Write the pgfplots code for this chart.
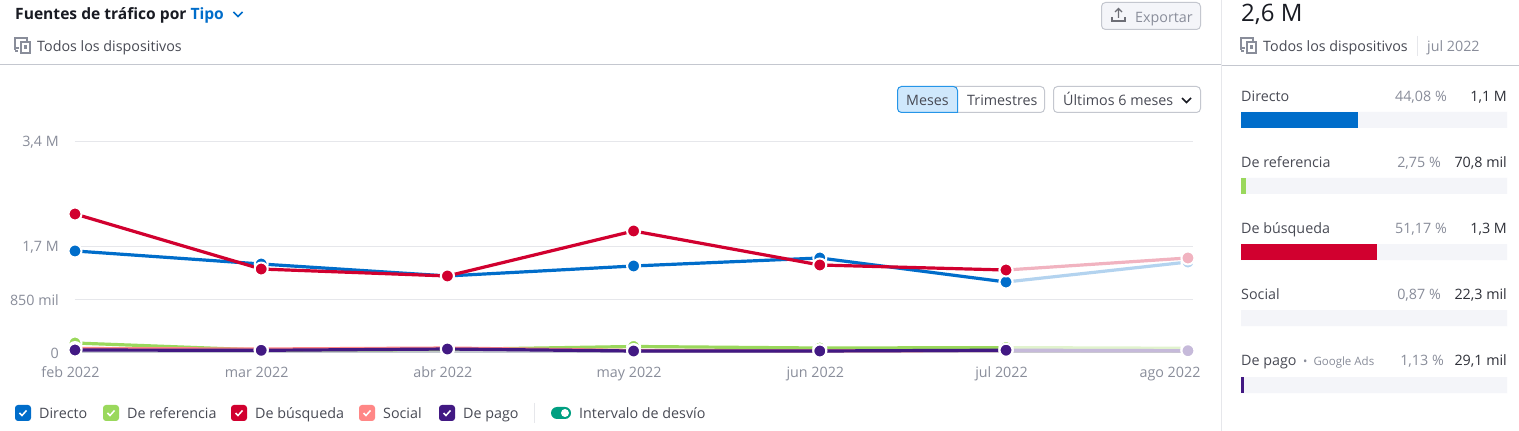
\documentclass[border=0pt]{standalone}
\usepackage{fontspec}
\setmainfont{Open Sans}
\usepackage{pgfplots}
\pgfplotsset{compat=1.18}
\definecolor{cBlue}{HTML}{006DCA}
\definecolor{cGreen}{HTML}{9AD85C}
\definecolor{cRed}{HTML}{D1002F}
\definecolor{cPink}{HTML}{FF8786}
\definecolor{cPurple}{HTML}{421983}
\definecolor{fBlue}{HTML}{B3D3EF}
\definecolor{fGreen}{HTML}{E1F3CE}
\definecolor{fRed}{HTML}{F1B3C0}
\definecolor{fPink}{HTML}{FFDBDB}
\definecolor{fPurple}{HTML}{C6BADA}
\definecolor{tDark}{HTML}{191B23}
\definecolor{tMid}{HTML}{484A54}
\definecolor{tVal}{HTML}{2E3038}
\definecolor{tGrey}{HTML}{898D9A}
\definecolor{lineC}{HTML}{C4C7CF}
\definecolor{gridC}{HTML}{E6E7EB}
\definecolor{track}{HTML}{F4F5F9}
\definecolor{btnFill}{HTML}{CFE8FC}
\definecolor{btnLine}{HTML}{2595E8}
\definecolor{toggleC}{HTML}{009F81}
\newcommand{\fs}[1]{\fontsize{#1}{#1}\selectfont}
% x, baseline y, colour, text
\newcommand{\tl}[4]{\node[anchor=base west,inner sep=0pt,text=#3] at (#1,#2) {\strut\fs{14.3}#4};}
\newcommand{\tr}[4]{\node[anchor=base east,inner sep=0pt,text=#3] at (#1,#2) {\strut\fs{14.3}#4};}
\newcommand{\devicon}[2]{%
 \begin{scope}[shift={(#1,#2)},draw=tGrey,line width=1.2pt]
  \draw (4,10) -- (0,10) -- (0,0) -- (12,0) -- (12,3);
  \draw (6,4) rectangle (15,15);
  \draw (10,8) rectangle (11.5,10);
  \draw (0,10) -- (0,12) (0,13)--(3,13);
 \end{scope}}
\newcommand{\chk}[2]{%
 \fill[rounded corners=3pt,#2] (#1,405) rectangle ++(16,16);
 \draw[white,line width=1.5pt] (#1+4.5,413) -- (#1+7,415.5) -- (#1+11.5,410.5);}
\pgfplotstableread{
x d r b s p
0 1628000 145000 2224000 56000 32000
1 1418000 32000 1337000 48000 27000
2 1225000 40000 1225000 64000 48000
3 1386000 89000 1950000 24000 16000
4 1515000 64000 1402000 21000 16000
5 1128000 70800 1321000 22300 29100
}\solid
\pgfplotstableread{
x d r b s p
5 1128000 70800 1321000 22300 29100
5.977 1450000 60000 1515000 22000 21000
}\faded
\pgfplotsset{
  ser/.style={line width=3.2pt,mark=*,mark size=6.5pt,color=#1,
    mark options={draw=white,fill=#1,line width=2pt}},
}
\begin{document}
\begin{tikzpicture}
\path[use as bounding box] (0,0) rectangle (1519pt,431pt);
\clip (0,0) rectangle (1519pt,431pt);
\fill[white] (0,0) rectangle (1519pt,431pt);
\begin{axis}[
  at={(75pt,79pt)},anchor=south west,
  scale only axis,width=1118pt,height=211pt,
  xmin=0,xmax=6.004,ymin=0,ymax=3400000,
  clip=false,
  axis line style={draw=none},
  tick style={draw=none},
  major tick length=0pt,
  scaled y ticks=false,
  ymajorgrids,
  grid style={gridC,line width=1pt},
  ytick={0,850000,1700000,3400000},
  yticklabels={0,850 mil,{1,7 M},{3,4 M}},
  xtick={0,1,2,3,4,5,5.905},
  xticklabels={feb 2022,mar 2022,abr 2022,may 2022,jun 2022,jul 2022,ago 2022},
  xticklabel style={anchor=north,inner sep=0pt,text height=10pt,text depth=3pt,yshift=-15pt,xshift=-4.5pt,text=tGrey,font=\fs{14.3}},
  yticklabel style={anchor=east,inner sep=0pt,xshift=-16pt,yshift=-1pt,text=tGrey,font=\fs{14.3}},
]
\draw[lineC,line width=1.5pt] (axis cs:0,0) -- (axis cs:6.004,0);
\addplot[ser=fBlue] table[x=x,y=d] {\faded};
\addplot[ser=fGreen] table[x=x,y=r] {\faded};
\addplot[ser=fRed] table[x=x,y=b] {\faded};
\addplot[ser=fPink] table[x=x,y=s] {\faded};
\addplot[ser=fPurple] table[x=x,y=p] {\faded};
\addplot[ser=cBlue] table[x=x,y=d] {\solid};
\addplot[ser=cGreen] table[x=x,y=r] {\solid};
\addplot[ser=cRed] table[x=x,y=b] {\solid};
\addplot[ser=cPink] table[x=x,y=s] {\solid};
\addplot[ser=cPurple] table[x=x,y=p] {\solid};
\end{axis}
\begin{axis}[
  at={(1241pt,38pt)},anchor=south west,
  scale only axis,width=266pt,height=281pt,
  xmin=0,xmax=100,ymin=112,ymax=393,y dir=reverse,
  axis lines=none,
  xbar,bar shift=0pt,bar width=16pt,
  every axis plot/.append style={draw=none},
]
\addplot[fill=track] coordinates {(100,120) (100,186) (100,252) (100,318) (100,385)};
\addplot[fill=cBlue] coordinates {(44.08,120)};
\addplot[fill=cGreen] coordinates {(2.0,186)};
\addplot[fill=cRed] coordinates {(51.17,252)};
\addplot[fill=cPurple] coordinates {(1.13,385)};
\end{axis}
\begin{scope}[x=1pt,y=-1pt,yshift=431pt]
% frame lines
\draw[lineC,line width=1pt] (0,65) -- (1221,65);
\draw[lineC,line width=1pt] (1221,65.5) -- (1519,65.5);
\draw[gridC,line width=1pt] (1221,0) -- (1221,431);
% header
\node[anchor=base west,inner sep=0pt,text=tDark] at (15,19.5) {\fs{15.6}\bfseries Fuentes de tráfico por \textcolor{cBlue}{Tipo}};
\draw[cBlue,line width=1.6pt] (233.5,12) -- (238,16.5) -- (242.5,12);
\devicon{15}{38}
\tl{37}{52}{tMid}{Todos los dispositivos}
% export
\draw[lineC,fill=track,rounded corners=4pt,line width=1pt] (1101.5,2.5) rectangle (1200.5,29.5);
\tl{1135}{22.5}{tGrey}{Exportar}
\draw[tMid!80,line width=1.3pt] (1112,17) -- (1112,21) -- (1125,21) -- (1125,17);
\draw[tMid!80,line width=1.3pt] (1118.5,18) -- (1118.5,9) (1115,12) -- (1118.5,8.5) -- (1122,12);
% range buttons
\draw[lineC,fill=white,rounded corners=4pt,line width=1pt] (950,86.5) rectangle (1044.5,112.5);
\draw[btnLine,fill=btnFill,rounded corners=4pt,line width=1pt] (905,86.5) -- (957.5,86.5) [sharp corners] -- (957.5,112.5) [rounded corners=4pt] -- (897.5,112.5) -- (897.5,86.5) -- cycle;
\tl{906}{106}{tMid}{Meses}
\tl{967}{106}{tMid}{Trimestres}
\draw[lineC,fill=white,rounded corners=4pt,line width=1pt] (1053.5,86.5) rectangle (1200.5,112.5);
\tl{1063}{106}{tMid}{Últimos 6 meses}
\draw[tDark,line width=1.6pt] (1182,98) -- (1186.5,102.5) -- (1191,98);
% right panel
\node[anchor=base west,inner sep=0pt,text=tDark] at (1241,22) {\fs{24}2,6 M};
\devicon{1241}{38}
\tl{1263}{52}{tMid}{Todos los dispositivos}
\draw[gridC,line width=1pt] (1417,36) -- (1417,56);
\tl{1427}{52}{tGrey}{jul 2022}
\tl{1241}{102}{tMid}{Directo}
\tr{1447}{102}{tGrey}{44,08 \%}
\tr{1507}{102}{tVal}{1,1 M}
\tl{1241}{168}{tMid}{De referencia}
\tr{1441}{168}{tGrey}{2,75 \%}
\tr{1507}{168}{tVal}{70,8 mil}
\tl{1241}{234}{tMid}{De búsqueda}
\tr{1447}{234}{tGrey}{51,17 \%}
\tr{1507}{234}{tVal}{1,3 M}
\tl{1241}{300}{tMid}{Social}
\tr{1441}{300}{tGrey}{0,87 \%}
\tr{1507}{300}{tVal}{22,3 mil}
\tl{1241}{366}{tMid}{De pago}
\node[anchor=base west,inner sep=0pt,text=tGrey] at (1303,366) {\fs{11.5}• \ Google Ads};
\tr{1444}{366}{tGrey}{1,13 \%}
\tr{1507}{366}{tVal}{29,1 mil}
% legend
\chk{15}{cBlue}\tl{39}{419}{tMid}{Directo}
\chk{103}{cGreen}\tl{127}{419}{tMid}{De referencia}
\chk{231}{cRed}\tl{255}{419}{tMid}{De búsqueda}
\chk{359}{cPink}\tl{383}{419}{tMid}{Social}
\chk{439}{cPurple}\tl{463}{419}{tMid}{De pago}
\draw[gridC,line width=1pt] (534.5,403) -- (534.5,423);
\fill[rounded corners=6pt,toggleC] (551,407) rectangle (571,419);
\fill[white] (565,413) circle (4);
\tl{579}{419}{tMid}{Intervalo de desvío}
\end{scope}
\end{tikzpicture}
\end{document}
